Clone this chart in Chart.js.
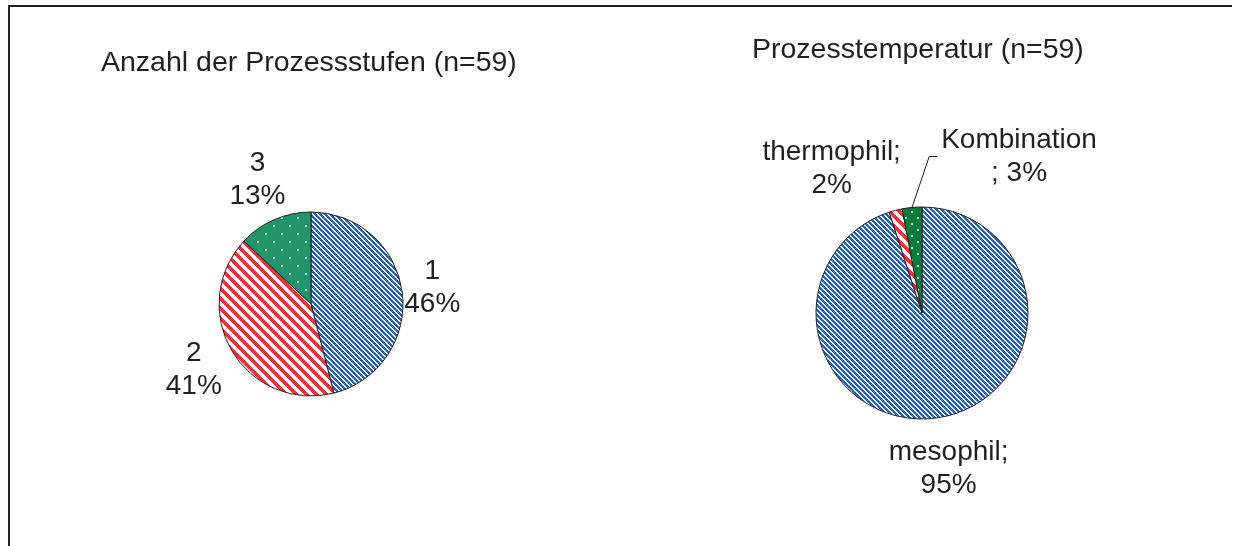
<!DOCTYPE html>
<html>
<head>
<meta charset="utf-8">
<title>Prozessstufen und Prozesstemperatur</title>
<script src="https://cdn.jsdelivr.net/npm/chart.js"></script>
<style>
  body { margin: 0; background: #fff; }
  #frame {
    position: absolute; left: 8px; top: 5px; width: 1224px; height: 541px;
    border-left: 2px solid #231f20; border-top: 2px solid #231f20; box-sizing: border-box;
  }
  .pie { position: absolute; top: 0; height: 546px; }
</style>
</head>
<body>
<div id="frame"></div>
<div class="pie" style="left:0;width:616px"><canvas id="stufen" width="616" height="546"></canvas></div>
<div class="pie" style="left:616px;width:617px"><canvas id="temp" width="617" height="546"></canvas></div>

<script>
// Anzahl der Prozessstufen (n=59), Anteile in %
const stufenTitle = 'Anzahl der Prozessstufen (n=59)';
const stufenLabels = ['1', '2', '3'];
const stufenValues = [46, 41, 13];

// Prozesstemperatur (n=59), Anteile in %
const tempTitle = 'Prozesstemperatur (n=59)';
const tempLabels = ['mesophil', 'thermophil', 'Kombination'];
const tempValues = [95, 2, 3];

const INK = '#231f20';
const FONT = '28px "Liberation Sans", Arial, sans-serif';
const TITLE_FONT = '28.5px "Liberation Sans", Arial, sans-serif';

// diagonal stripes running top-left to bottom-right
function stripes(color, bg, period, width) {
  const c = document.createElement('canvas');
  c.width = c.height = period;
  const g = c.getContext('2d');
  g.fillStyle = bg;
  g.fillRect(0, 0, period, period);
  g.fillStyle = color;
  for (let y = 0; y < period; y++) {
    for (let x = 0; x < period; x++) {
      if ((((x - y) % period) + period) % period < width) g.fillRect(x, y, 1, 1);
    }
  }
  return g.createPattern(c, 'repeat');
}

// staggered light dots on a solid fill
function dots(color, dot, step) {
  const c = document.createElement('canvas');
  c.width = c.height = step * 2;
  const g = c.getContext('2d');
  g.fillStyle = color;
  g.fillRect(0, 0, step * 2, step * 2);
  g.fillStyle = dot;
  g.fillRect(1, 1, 2, 2);
  g.fillRect(step + 1, step + 1, 2, 2);
  return g.createPattern(c, 'repeat');
}

// text next to each slice, placed from the slice's outer mid point
const sliceLabels = {
  id: 'sliceLabels',
  afterDatasetsDraw(chart, args, opts) {
    const ctx = chart.ctx;
    const meta = chart.getDatasetMeta(0);
    ctx.save();
    ctx.font = FONT;
    ctx.fillStyle = INK;
    ctx.strokeStyle = INK;
    ctx.lineWidth = 1;
    ctx.textAlign = 'center';
    ctx.textBaseline = 'middle';
    meta.data.forEach((arc, i) => {
      const mid = (arc.startAngle + arc.endAngle) / 2;
      const ox = arc.x + Math.cos(mid) * arc.outerRadius;
      const oy = arc.y + Math.sin(mid) * arc.outerRadius;
      const cx = ox + opts.offsets[i][0];
      const cy = oy + opts.offsets[i][1];
      const lines = opts.lines(i);
      lines.forEach((t, k) => {
        ctx.fillText(t, cx, cy + (k - (lines.length - 1) / 2) * opts.lineHeight);
      });
      if (opts.leaders && opts.leaders[i]) {
        const w = Math.max(...lines.map(t => ctx.measureText(t).width));
        const left = cx - w / 2 - 4;
        ctx.beginPath();
        ctx.moveTo(ox, oy);
        ctx.lineTo(left - 8, cy);
        ctx.lineTo(left, cy);
        ctx.stroke();
      }
    });
    ctx.font = TITLE_FONT;
    ctx.textAlign = 'left';
    ctx.textBaseline = 'alphabetic';
    ctx.fillText(opts.title, opts.titleX, opts.titleY);
    ctx.restore();
  }
};

const blue = stripes('#2563b0', '#f2f6fc', 5, 3);
const red = stripes('#ee3338', '#ffffff', 10, 5);

function pieOptions(padding, labelOpts) {
  return {
    responsive: false,
    animation: false,
    layout: { padding: padding },
    plugins: {
      legend: { display: false },
      tooltip: { enabled: false },
      sliceLabels: labelOpts
    }
  };
}

new Chart(document.getElementById('stufen'), {
  type: 'pie',
  data: {
    labels: stufenLabels,
    datasets: [{
      data: stufenValues,
      radius: 92,
      backgroundColor: [blue, red, dots('#21946b', '#c8eadb', 8)],
      borderColor: INK,
      borderWidth: 1
    }]
  },
  options: pieOptions({ left: 106, right: 100, top: 112, bottom: 50 }, {
    title: stufenTitle,
    titleX: 101,
    titleY: 71,
    lineHeight: 33,
    offsets: [[30, -5], [-38, 19], [-17, -40]],
    lines: i => [stufenLabels[i], stufenValues[i] + '%']
  }),
  plugins: [sliceLabels]
});

// "Kombination" wraps before the semicolon
const tempWrapBeforeSemicolon = [false, false, true];

new Chart(document.getElementById('temp'), {
  type: 'pie',
  data: {
    labels: tempLabels,
    datasets: [{
      data: tempValues,
      radius: 106,
      backgroundColor: [blue, red, dots('#0b7a3b', '#b7dcc4', 6)],
      borderColor: INK,
      borderWidth: 1
    }]
  },
  options: pieOptions({ left: 100, right: 105, top: 120, bottom: 40 }, {
    title: tempTitle,
    titleX: 136,
    titleY: 58,
    lineHeight: 33,
    offsets: [[10, 51], [-64, -42], [107, -51]],
    leaders: [false, false, true],
    lines: i => tempWrapBeforeSemicolon[i]
      ? [tempLabels[i], '; ' + tempValues[i] + '%']
      : [tempLabels[i] + ';', tempValues[i] + '%']
  }),
  plugins: [sliceLabels]
});
</script>
</body>
</html>
